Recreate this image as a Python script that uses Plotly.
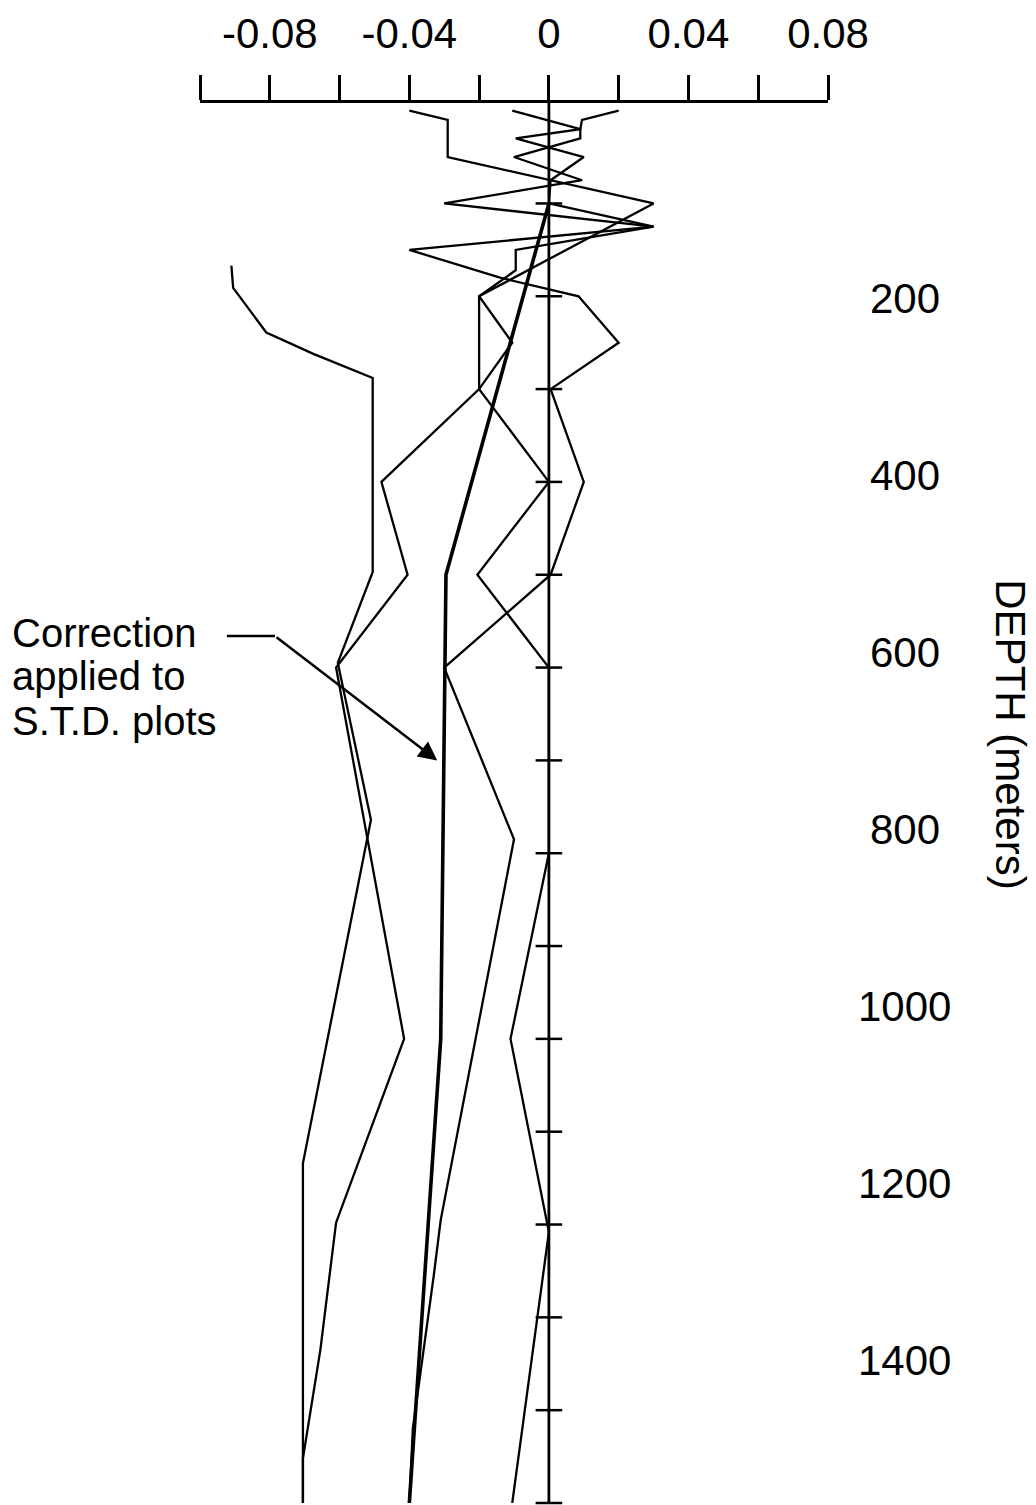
import plotly.graph_objects as go

# ---- axis ticks / labels ----
X_TICKS = [-0.10, -0.08, -0.06, -0.04, -0.02, 0.0, 0.02, 0.04, 0.06, 0.08]
X_TICK_LABELS = ["", "-0.08", "", "-0.04", "", "0", "", "0.04", "", "0.08"]
DEPTH_TICKS = [100, 200, 300, 400, 500, 600, 700, 800, 900, 1000, 1100, 1200, 1300, 1400, 1500]
DEPTH_LABELS = [200, 400, 600, 800, 1000, 1200, 1400]

# ---- profiles (value vs depth in meters) ----
PROFILE_A_DEPTH = [167, 191, 239, 262, 288, 497, 595, 764, 1134, 1500]
PROFILE_A_VALUE = [-0.091, -0.0905, -0.081, -0.0675, -0.0505, -0.0505, -0.0605, -0.051, -0.0705, -0.0705]

PROFILE_B_DEPTH = [0, 10, 20, 30, 50, 75, 100, 125, 150, 172, 200, 250, 300, 400, 500, 600, 1000, 1198, 1335, 1452, 1500]
PROFILE_B_VALUE = [0.020, 0.0095, 0.009, -0.0095, 0.010, 0.0005, 0.0, 0.030, -0.0095, -0.0095, -0.020,
                   -0.0105, -0.020, -0.048, -0.0405, -0.061, -0.0415, -0.061, -0.0655, -0.0705, -0.0705]

PROFILE_C_DEPTH = [0, 20, 30, 50, 75, 100, 125, 150, 180, 200, 250, 300, 400, 500, 600, 785, 1195, 1255, 1420, 1500]
PROFILE_C_VALUE = [-0.0105, 0.009, 0.009, -0.010, 0.0095, -0.030, 0.030, -0.040, -0.014, 0.0085, 0.020,
                   0.0005, 0.010, 0.0005, -0.030, -0.010, -0.031, -0.033, -0.039, -0.040]

PROFILE_D_DEPTH = [0, 10, 50, 100, 200, 300, 400, 500, 600, 800, 1000, 1208, 1500]
PROFILE_D_VALUE = [-0.040, -0.029, -0.029, 0.030, -0.020, -0.020, 0.0, -0.0205, 0.0, 0.0, -0.011, 0.0, -0.0105]

CORRECTION_DEPTH = [100, 500, 1000, 1500]
CORRECTION_VALUE = [0.0, -0.0295, -0.031, -0.040]

ZERO_LINE_DEPTH = [-8.2, 1500]
ZERO_LINE_VALUE = [0.0, 0.0]

FONT = "Liberation Sans, Arial, sans-serif"

fig = go.Figure()

for d, v in [(PROFILE_A_DEPTH, PROFILE_A_VALUE), (PROFILE_B_DEPTH, PROFILE_B_VALUE),
             (PROFILE_C_DEPTH, PROFILE_C_VALUE), (PROFILE_D_DEPTH, PROFILE_D_VALUE)]:
    fig.add_trace(go.Scatter(x=v, y=d, mode="lines", line=dict(color="black", width=2.3),
                             showlegend=False, hoverinfo="skip"))

fig.add_trace(go.Scatter(x=CORRECTION_VALUE, y=CORRECTION_DEPTH, mode="lines",
                         line=dict(color="black", width=3.6), showlegend=False, hoverinfo="skip"))

fig.add_trace(go.Scatter(x=ZERO_LINE_VALUE, y=ZERO_LINE_DEPTH, mode="lines",
                         line=dict(color="black", width=2.8), showlegend=False, hoverinfo="skip",
                         cliponaxis=False))

fig.add_trace(go.Scatter(x=[0.0] * len(DEPTH_TICKS), y=DEPTH_TICKS, mode="markers",
                         marker=dict(symbol="line-ew", size=19, line=dict(color="black", width=2.5)),
                         showlegend=False, hoverinfo="skip", cliponaxis=False))

annotations = []
# depth labels placed through their own (hidden) label scale
for lab in DEPTH_LABELS:
    annotations.append(dict(x=1.1226, xref="paper", y=lab, yref="y2", text=str(lab),
                            showarrow=False, xanchor="center", yanchor="middle",
                            font=dict(family=FONT, size=42, color="black")))

annotations.append(dict(x=1.29, xref="paper", y=0.549, yref="paper", text="DEPTH (meters)",
                        textangle=90, showarrow=False, xanchor="center", yanchor="middle",
                        font=dict(family=FONT, size=42, color="black")))

for txt, yy in [("Correction", 0.6214), ("applied to", 0.5909), ("S.T.D. plots", 0.5589)]:
    annotations.append(dict(x=-0.3025, xref="paper", y=yy, yref="paper", text=txt,
                            showarrow=False, xanchor="left", yanchor="middle",
                            font=dict(family=FONT, size=40, color="black")))

annotations.append(dict(x=-0.032, y=700, xref="x", yref="y", ax=-0.0785, ay=566,
                        axref="x", ayref="y", text="", showarrow=True, arrowhead=2,
                        arrowsize=1.5, arrowwidth=2.5, arrowcolor="black", standoff=0))

# page body has an 8px default margin; the figure is sized/offset to compensate
fig.update_layout(
    width=1028, height=1497,
    margin=dict(l=192, r=208, t=87, b=2, pad=0),
    paper_bgcolor="white", plot_bgcolor="white",
    showlegend=False,
    xaxis=dict(range=[-0.1, 0.08], side="top", tickmode="array", tickvals=X_TICKS,
               ticktext=X_TICK_LABELS, ticks="outside", ticklen=25, tickwidth=2.5,
               tickcolor="black", showline=True, linewidth=3, linecolor="black",
               showgrid=False, zeroline=False, ticklabelstandoff=10,
               tickfont=dict(family=FONT, size=42, color="black")),
    yaxis=dict(range=[1500, -8.2], visible=False, showgrid=False, zeroline=False),
    yaxis2=dict(range=[1560.6, -20.2], overlaying="y", visible=False, showgrid=False,
                zeroline=False),
    annotations=annotations,
    shapes=[dict(type="line", xref="x", yref="y", x0=-0.0923, x1=-0.0785, y0=566, y1=566,
                 line=dict(color="black", width=2.5))],
)

fig.write_html("out.html")
